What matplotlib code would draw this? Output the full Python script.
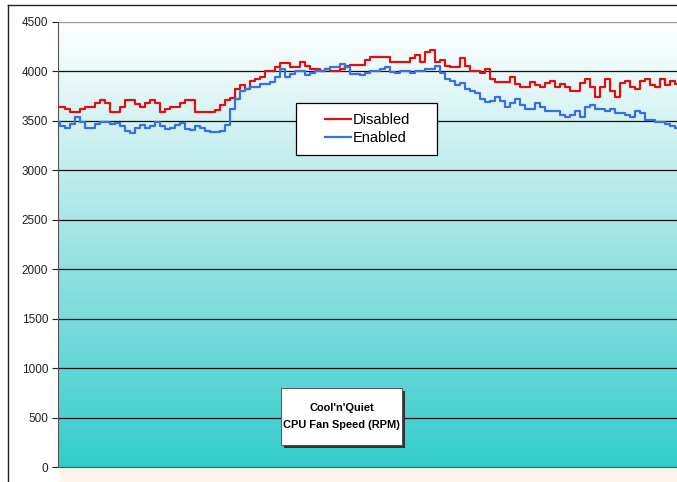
import numpy as np
import matplotlib
matplotlib.use("Agg")
import matplotlib.pyplot as plt
from matplotlib.colors import LinearSegmentedColormap
from matplotlib.lines import Line2D

plt.rcParams['font.family'] = ['Liberation Sans', 'DejaVu Sans']

# CPU fan speed (RPM) over time
disabled = [3640, 3640, 3620, 3590, 3590, 3620, 3640, 3640, 3680, 3710,
            3680, 3590, 3590, 3640, 3710, 3710, 3670, 3640, 3680, 3710,
            3680, 3590, 3620, 3640, 3640, 3680, 3710, 3710, 3590, 3590,
            3590, 3590, 3610, 3660, 3710, 3730, 3820, 3860, 3820, 3900,
            3920, 3940, 4000, 4000, 4050, 4090, 4090, 4040, 4040, 4100,
            4060, 4020, 4020, 4000, 4020, 4000, 4000, 4020, 4060, 4070,
            4070, 4070, 4120, 4150, 4150, 4150, 4150, 4100, 4100, 4100,
            4100, 4140, 4170, 4100, 4200, 4220, 4100, 4120, 4060, 4040,
            4040, 4140, 4060, 4000, 4000, 3980, 4020, 3920, 3890, 3890,
            3890, 3940, 3870, 3840, 3840, 3890, 3860, 3840, 3880, 3900,
            3840, 3870, 3840, 3800, 3800, 3880, 3920, 3840, 3740, 3840,
            3920, 3800, 3740, 3880, 3900, 3840, 3820, 3900, 3920, 3860,
            3840, 3920, 3860, 3900, 3870]
enabled = [3490, 3450, 3430, 3470, 3540, 3490, 3430, 3430, 3470, 3490,
           3490, 3470, 3480, 3450, 3400, 3380, 3430, 3460, 3430, 3450,
           3490, 3450, 3420, 3430, 3460, 3480, 3420, 3410, 3450, 3430,
           3400, 3390, 3390, 3400, 3460, 3620, 3720, 3800, 3820, 3840,
           3840, 3870, 3870, 3890, 3940, 4020, 3940, 3970, 4000, 4000,
           3960, 3980, 4000, 4000, 4020, 4040, 4040, 4080, 4040, 3970,
           3970, 3960, 3980, 4000, 4000, 4020, 4040, 3990, 3980, 4000,
           4000, 3980, 4000, 4000, 4020, 4020, 4060, 3980, 3920, 3900,
           3860, 3880, 3820, 3800, 3780, 3720, 3690, 3700, 3740, 3700,
           3640, 3680, 3720, 3660, 3620, 3620, 3680, 3640, 3600, 3600,
           3600, 3560, 3540, 3560, 3600, 3540, 3640, 3660, 3620, 3620,
           3600, 3620, 3580, 3580, 3560, 3540, 3600, 3580, 3510, 3510,
           3490, 3490, 3470, 3450, 3430]
yticks = [0, 500, 1000, 1500, 2000, 2500, 3000, 3500, 4000, 4500]

fig = plt.figure(figsize=(6.77, 4.82), dpi=100)
fig.patch.set_facecolor('white')

# light strip under the plot area
fig.patches.append(plt.Rectangle((59 / 677, 0), 1, 14 / 482, transform=fig.transFigure,
                                 facecolor='#fdf5ee', edgecolor='none', zorder=-1))

ax = fig.add_axes([58 / 677, 15 / 482, 1 - 58 / 677, 445 / 482])
n = len(disabled)
x = np.arange(n)

cmap = LinearSegmentedColormap.from_list('bg', ['#ffffff', '#9fe3e3', '#33cccc'])
grad = np.linspace(1, 0, 256).reshape(-1, 1)
ax.imshow(grad, aspect='auto', cmap=cmap, extent=(-0.5, n - 0.5, 0, 4500),
          origin='lower', zorder=0)
ax.set_ylim(0, 4500)
ax.set_xlim(0, n - 1)

for yv in yticks[1:-1]:
    ax.axhline(yv, color='#111111', lw=0.9, zorder=1)
ax.axhline(4500, color='#999999', lw=0.9, zorder=1)

ax.plot(x, disabled, color='#e01010', lw=1.6, label='Disabled', zorder=3,
        drawstyle='steps-mid')
ax.plot(x, enabled, color='#3a6fe0', lw=1.6, label='Enabled', zorder=3,
        drawstyle='steps-mid')

ax.set_yticks(yticks)
ax.set_yticklabels([str(v) for v in yticks], fontsize=8.5)
ax.set_xticks([])
ax.tick_params(axis='y', direction='out', length=4, width=0.8, pad=3, colors='#222222')
for s in ['top', 'right']:
    ax.spines[s].set_visible(False)
ax.spines['left'].set_color('#555555')
ax.spines['bottom'].set_color('#555555')

# legend box drawn by hand (wider side padding than matplotlib's)
ax.add_patch(plt.Rectangle((0.3845, 0.701), 0.2278, 0.117, transform=ax.transAxes,
                           facecolor='white', edgecolor='black', lw=0.9, zorder=5))
leg = ax.legend(loc='center', bbox_to_anchor=(0.4997, 0.7596), fontsize=10.5,
                frameon=False, handlelength=1.8,
                handletextpad=0.1, borderpad=0.3, labelspacing=0.3,
                borderaxespad=0)
leg.set_zorder(6)

# title box with drop shadow
bx, by, bw, bh = (281 - 58) / 619, (467 - 445) / 445, 121 / 619, 57 / 445
ax.add_patch(plt.Rectangle((bx + 3 / 619, by - 3 / 445), bw, bh, transform=ax.transAxes,
                           facecolor='#333333', edgecolor='none', zorder=6))
ax.add_patch(plt.Rectangle((bx, by), bw, bh, transform=ax.transAxes,
                           facecolor='white', edgecolor='#444444', lw=0.6, zorder=7))
ax.text(bx + bw / 2, by + bh / 2, "Cool'n'Quiet\nCPU Fan Speed (RPM)", transform=ax.transAxes,
        ha='center', va='center', fontsize=7.9, fontweight='bold', linespacing=1.9,
        zorder=8)

# outer chart frame
fig.add_artist(Line2D([8 / 677, 8 / 677], [0, 1 - 5 / 482], transform=fig.transFigure, color='#222222', lw=1))
fig.add_artist(Line2D([8 / 677, 1], [1 - 5 / 482, 1 - 5 / 482], transform=fig.transFigure, color='#222222', lw=1))

fig.savefig('out.png', dpi=100)
